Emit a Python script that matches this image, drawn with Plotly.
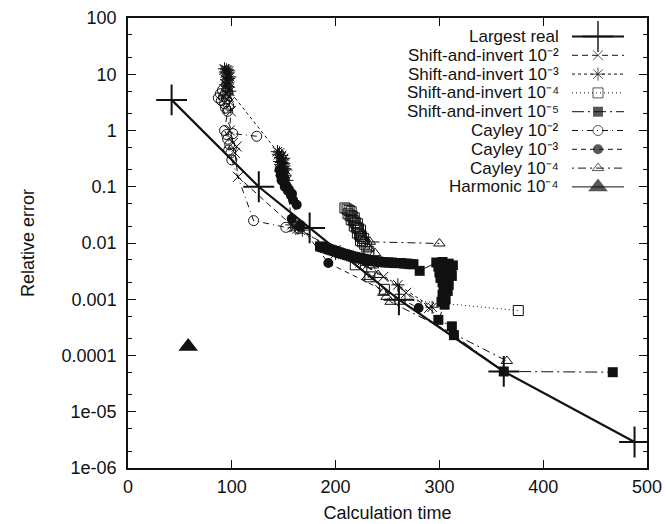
import plotly.graph_objects as go

# ---------------- data ----------------
LR_T = [42, 126, 175, 261, 362, 488]
LR_E = [3.5, 0.1, 0.0185, 0.00098, 5.2e-5, 2.9e-6]

SI2_T = [93, 94, 95, 96, 97, 98, 94, 95, 96, 97, 95, 96, 97, 98, 99, 98, 101, 104.7, 103, 106,
         160, 163, 166, 200, 224, 246, 268, 290]
SI2_E = [12, 10.5, 11.5, 9, 10, 7, 8, 6.5, 7.5, 5.5, 4.5, 5, 4, 3.2, 2.2, 1.0, 0.6, 0.52, 0.4, 0.15,
         0.019, 0.018, 0.017, 0.0075, 0.0045, 0.0025, 0.0013, 0.0007]

SI3_T = [93, 94, 95, 96, 97, 98, 95, 96, 97, 94, 96, 98,
         144, 145, 146, 147, 148, 149, 150, 146, 147, 148, 149, 150, 151, 152, 147, 149, 151, 153,
         158, 161, 164, 168, 200, 230, 260, 293]
SI3_E = [12.5, 11, 12, 10.5, 11.5, 9, 8, 7, 8.5, 6.5, 6, 5,
         0.42, 0.37, 0.4, 0.33, 0.36, 0.3, 0.32, 0.28, 0.25, 0.27, 0.23, 0.26, 0.21, 0.2, 0.19, 0.17, 0.16, 0.13,
         0.021, 0.019, 0.02, 0.017, 0.0065, 0.004, 0.0018, 0.00072]

SI4_T = [209, 211, 213, 215, 212, 214, 216, 218, 215, 217, 219, 221, 218, 220, 222, 224,
         221, 223, 225, 227, 224, 226, 228, 230, 232, 219, 233, 247, 262, 376]
SI4_E = [0.042, 0.04, 0.038, 0.036, 0.033, 0.031, 0.03, 0.028, 0.026, 0.025, 0.023, 0.022, 0.02, 0.019, 0.018, 0.017,
         0.015, 0.014, 0.013, 0.012, 0.011, 0.0105, 0.0095, 0.0085, 0.007, 0.0041, 0.0025, 0.0015, 0.001, 0.00063]

SI5_T = [185, 187, 189, 191, 193, 195, 197, 199, 201, 203, 205, 207, 209, 211, 213, 215, 217, 219, 221, 223,
         225, 227, 229, 231, 233, 235, 237, 239, 241, 243, 245, 248, 251, 254, 257, 260, 263, 266, 269, 272,
         275, 281,
         297, 303, 309, 313, 299, 306, 311, 300, 307, 312, 301, 308, 303, 309, 304, 308, 303, 306, 302, 305,
         299, 312, 314, 362, 467]
SI5_E = [0.0087, 0.0085, 0.0083, 0.0081, 0.0078, 0.0076, 0.0074, 0.0072, 0.007, 0.0068, 0.0066, 0.0064, 0.0063,
         0.0061, 0.006, 0.0058, 0.0057, 0.0056, 0.0055, 0.0054, 0.0053, 0.0052, 0.0051, 0.005, 0.0049, 0.0048,
         0.0048, 0.0047, 0.0047, 0.0046, 0.0046, 0.0045, 0.0045, 0.0045, 0.0044, 0.0044, 0.0044, 0.0043,
         0.0043, 0.0042, 0.0042, 0.0032,
         0.0045, 0.0046, 0.0043, 0.004, 0.0038, 0.0036, 0.0033, 0.003, 0.0028, 0.0026, 0.0024, 0.0022, 0.002,
         0.0018, 0.0016, 0.0014, 0.0012, 0.001, 0.0009, 0.0008,
         0.00043, 0.00033, 0.00023, 5.2e-5, 5.05e-5]

C2_T = [124, 101, 87, 89, 90, 91, 92, 93, 94, 95, 96, 97, 94, 96,
        93, 95, 96, 98, 97, 99, 100, 121, 152, 165]
C2_E = [0.79, 0.88, 3.8, 4.5, 3.4, 5.2, 4.0, 3.0, 4.6, 3.6, 5.0, 2.8, 2.5, 2.2,
        1.0, 0.85, 0.7, 0.56, 0.45, 0.4, 0.3, 0.025, 0.019, 0.018]

C3_T = [146, 148, 150, 147, 149, 151, 148, 150, 152, 151, 153, 155, 154, 156, 158, 157, 159,
        162.5, 157.7, 165.7, 193, 280]
C3_E = [0.2, 0.18, 0.19, 0.16, 0.15, 0.14, 0.13, 0.12, 0.11, 0.1, 0.095, 0.09, 0.085, 0.08, 0.075, 0.07, 0.058,
        0.048, 0.027, 0.021, 0.0044, 0.0007]

C4_T = [300, 233, 228, 224, 232, 238, 236, 241, 231, 246, 249, 253, 365]
C4_E = [0.0098, 0.0105, 0.012, 0.014, 0.008, 0.0066, 0.004, 0.0027, 0.0025, 0.0013, 0.0011, 0.0009, 8e-5]

H_T = [58]
H_E = [0.000145]

X_TICKS = [0, 100, 200, 300, 400, 500]
Y_TICKS = [100, 10, 1, 0.1, 0.01, 0.001, 0.0001, 1e-05, 1e-06]
Y_TICK_TEXT = ["100", "10", "1", "0.1", "0.01", "0.001", "0.0001", "1e-05", "1e-06"]

LABELS = ["Largest real",
          "Shift-and-invert 10\u207b\u00b2",
          "Shift-and-invert 10\u207b\u00b3",
          "Shift-and-invert 10\u207b\u2074",
          "Shift-and-invert 10\u207b\u2075",
          "Cayley 10\u207b\u00b2",
          "Cayley 10\u207b\u00b3",
          "Cayley 10\u207b\u2074",
          "Harmonic 10\u207b\u2074"]

# ---------------- styles ----------------
INK = "#111111"
FONT = "Liberation Sans, Arial, sans-serif"
FS = 18
KEY_FS = 17

styles = [
    dict(t=LR_T, e=LR_E, symbol="cross-thin", size=22, mlw=2, dash="solid", lw=2.2),
    dict(t=SI2_T, e=SI2_E, symbol="x-thin", size=10, mlw=1, dash="6px,4px", lw=1),
    dict(t=SI3_T, e=SI3_E, symbol="asterisk", size=11, mlw=1, dash="3px,3px", lw=1),
    dict(t=SI4_T, e=SI4_E, symbol="square-open", size=10, mlw=1, dash="1px,3px", lw=1),
    dict(t=SI5_T, e=SI5_E, symbol="square", size=10, mlw=0, dash="12px,4px,2px,4px", lw=1),
    dict(t=C2_T, e=C2_E, symbol="circle-open", size=10, mlw=1, dash="6px,4px,1px,4px", lw=1),
    dict(t=C3_T, e=C3_E, symbol="circle", size=10, mlw=0, dash="5px,4px", lw=1),
    dict(t=C4_T, e=C4_E, symbol="triangle-up-open", size=10, mlw=1, dash="2px,4px,8px,4px", lw=1),
    dict(t=H_T, e=H_E, symbol="triangle-up", size=17, mlw=0, dash="solid", lw=1),
]

fig = go.Figure()

for lab, s in zip(LABELS, styles):
    fig.add_trace(go.Scatter(
        x=s["t"], y=s["e"], mode="lines+markers", name=lab, showlegend=False,
        line=dict(color=INK, width=s["lw"], dash=s["dash"]),
        marker=dict(symbol=s["symbol"], size=s["size"], color=INK,
                    line=dict(color=INK, width=s["mlw"])),
        xaxis="x", yaxis="y"))

# ---------------- manual gnuplot-style key (text left, sample right) ----------------
ROW0, ROWSTEP = 36.5, 18.8
TEXT_RIGHT, S_LEFT, S_MID, S_RIGHT = 561, 572, 598, 624
for i, (lab, s) in enumerate(zip(LABELS, styles)):
    yy = ROW0 + i * ROWSTEP
    fig.add_trace(go.Scatter(
        x=[S_LEFT, S_MID, S_RIGHT], y=[yy, yy, yy], mode="lines+markers", showlegend=False,
        line=dict(color=INK, width=s["lw"], dash=s["dash"]),
        marker=dict(symbol=s["symbol"], size=[0, s["size"], 0], color=INK,
                    line=dict(color=INK, width=s["mlw"])),
        xaxis="x2", yaxis="y2", hoverinfo="skip"))
    fig.add_annotation(x=TEXT_RIGHT, y=yy, xref="x2", yref="y2", text=lab, showarrow=False,
                       xanchor="right", yanchor="middle",
                       font=dict(family=FONT, size=KEY_FS, color=INK))

W, H = 666, 524
ML, MR, MT, MB = 128, 19, 18, 56

fig.update_layout(
    width=W, height=H,
    margin=dict(l=ML, r=MR, t=MT, b=MB, autoexpand=False),
    paper_bgcolor="white", plot_bgcolor="white",
    font=dict(family=FONT, size=FS, color=INK),
    xaxis=dict(range=[0, 500], tickvals=X_TICKS, ticks="inside", ticklen=8, tickwidth=1,
               tickcolor=INK, showline=True, linecolor=INK, linewidth=1.5, mirror="ticks",
               showgrid=False, zeroline=False, automargin=False,
               title=dict(text="Calculation time", standoff=10, font=dict(size=FS)),
               tickfont=dict(size=FS), ticklabelstandoff=2),
    yaxis=dict(type="log", range=[-6, 2], tickvals=Y_TICKS, ticktext=Y_TICK_TEXT,
               ticks="inside", ticklen=8, tickwidth=1, tickcolor=INK,
               showline=True, linecolor=INK, linewidth=1.5, mirror="ticks",
               showgrid=False, zeroline=False, automargin=False,
               minor=dict(ticks="inside", ticklen=4, dtick="D2", tickcolor=INK, showgrid=False),
               title=dict(text="Relative error", standoff=22, font=dict(size=FS)),
               tickfont=dict(size=FS), ticklabelstandoff=6),
    xaxis2=dict(overlaying="x", anchor="y2", range=[ML, W - MR], visible=False, fixedrange=True),
    yaxis2=dict(overlaying="y", anchor="x2", range=[H - MB, MT], visible=False, fixedrange=True),
)

fig.write_html("out.html")
